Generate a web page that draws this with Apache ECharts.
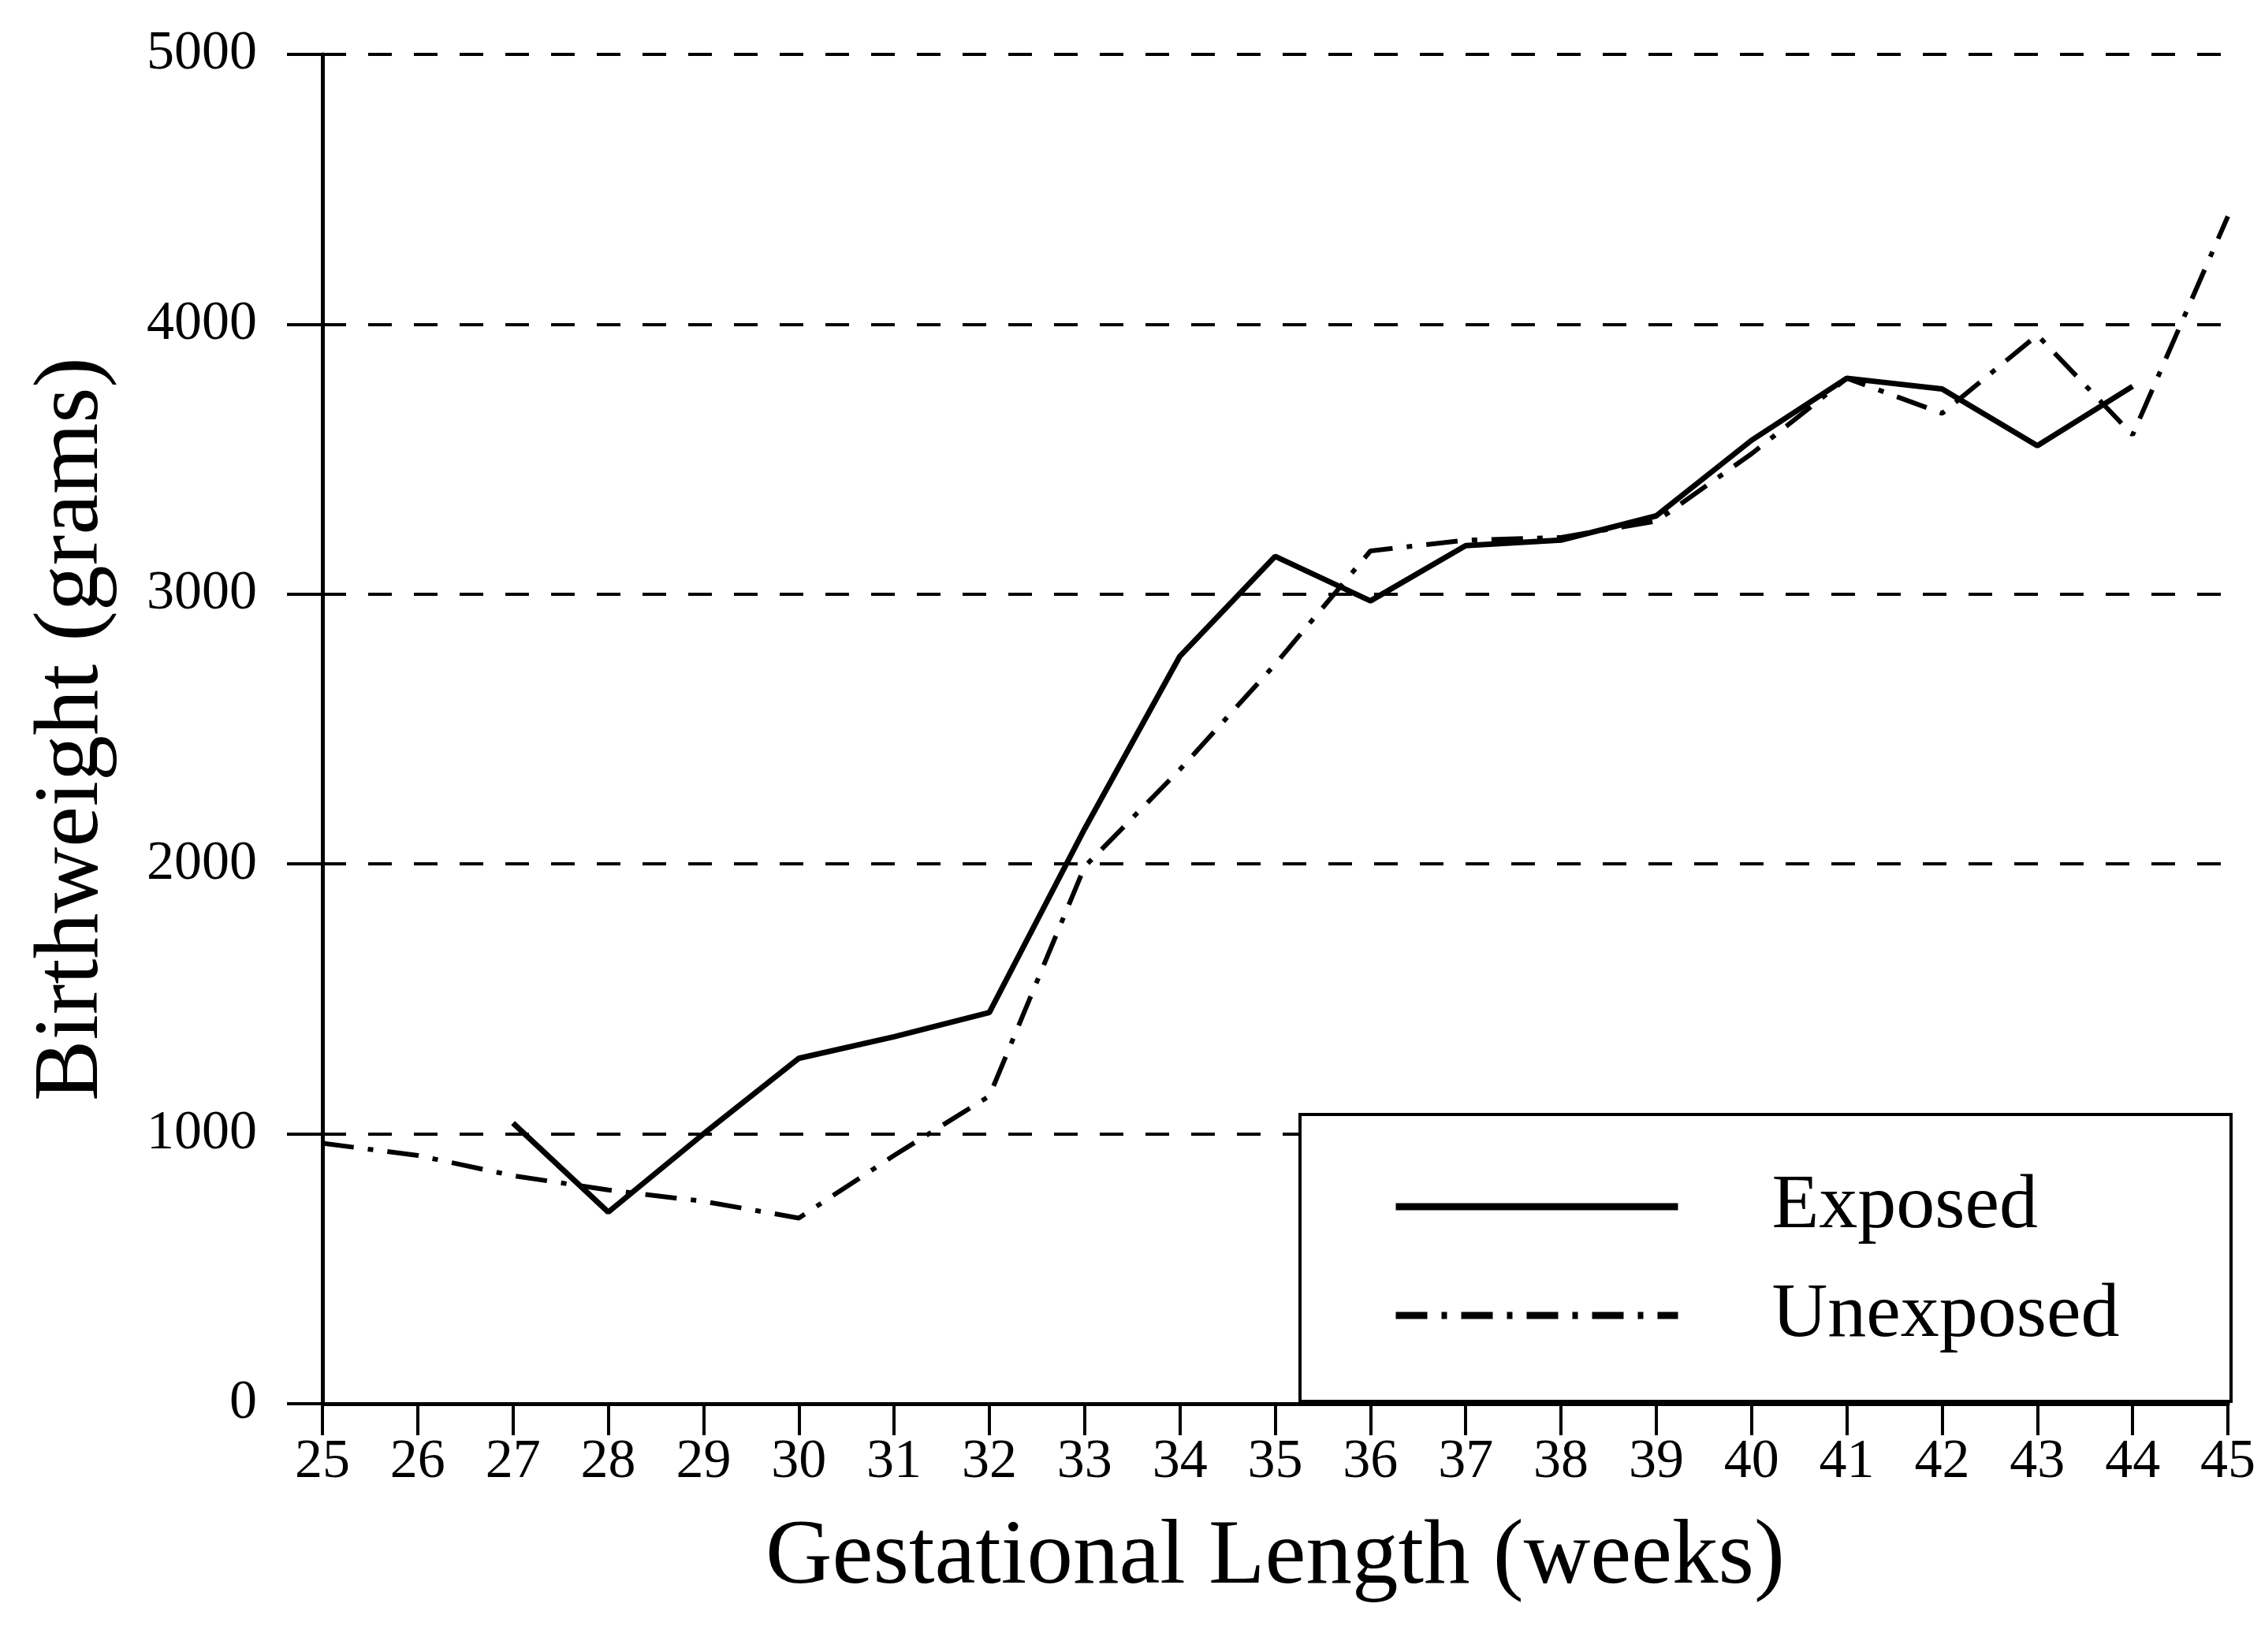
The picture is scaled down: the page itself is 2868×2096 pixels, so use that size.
<!DOCTYPE html>
<html>
<head>
<meta charset="utf-8">
<script src="https://cdn.jsdelivr.net/npm/echarts@6/dist/echarts.min.js"></script>
<style>
  html, body { margin: 0; padding: 0; background: #fff; }
  #chart { width: 2868px; height: 2096px; }
</style>
</head>
<body>
<div id="chart"></div>
<script>
// gestational length in weeks
var weeks = [25, 26, 27, 28, 29, 30, 31, 32, 33, 34, 35, 36, 37, 38, 39, 40, 41, 42, 43, 44, 45];
// mean birthweight (grams)
var exposed = [null, null, 1040, 710, 1000, 1280, 1360, 1450, 2130, 2770, 3140, 2975, 3180, 3200, 3290, 3570, 3800, 3760, 3550, 3770, null];
var unexposed = [965, 920, 845, 792, 750, 688, 920, 1140, 1990, 2350, 2740, 3160, 3200, 3210, 3270, 3520, 3800, 3670, 3960, 3590, 4400];
var yTicks = [0, 1000, 2000, 3000, 4000, 5000];
var seriesNames = ['Exposed', 'Unexposed'];

var serif = 'Liberation Serif';

function pairs(vals) {
  var out = [];
  for (var i = 0; i < weeks.length; i++) {
    out.push([weeks[i], vals[i]]);
  }
  return out;
}

var myChart = echarts.init(document.getElementById('chart'));

var option = {
  backgroundColor: '#fff',
  animation: false,
  grid: { left: 409, right: 42, top: 69, bottom: 315, outerBoundsMode: 'none', containLabel: false },
  xAxis: {
    type: 'value',
    min: weeks[0],
    max: weeks[weeks.length - 1],
    interval: 1,
    name: 'Gestational Length (weeks)',
    nameLocation: 'middle',
    nameGap: 138,
    nameTextStyle: { fontFamily: serif, fontSize: 117, color: '#000' },
    axisLine: { lineStyle: { color: '#000', width: 5 } },
    axisTick: { show: true, length: 40, lineStyle: { color: '#000', width: 4 } },
    axisLabel: { fontFamily: serif, fontSize: 70, color: '#000', margin: 40 },
    splitLine: { show: false }
  },
  yAxis: {
    type: 'value',
    min: yTicks[0],
    max: yTicks[yTicks.length - 1],
    interval: 1000,
    name: 'Birthweight (grams)',
    nameLocation: 'middle',
    nameGap: 258,
    nameTextStyle: { fontFamily: serif, fontSize: 116, color: '#000' },
    axisLine: { show: true, lineStyle: { color: '#000', width: 5 } },
    axisTick: { show: true, length: 45, lineStyle: { color: '#000', width: 4 } },
    axisLabel: {
      fontFamily: serif, fontSize: 70, color: '#000', margin: 83,
      formatter: function (v) { return String(v); }
    },
    splitLine: {
      show: true,
      lineStyle: { color: '#000', width: 4, type: [30, 28] }
    }
  },
  legend: {
    data: seriesNames,
    orient: 'vertical',
    left: 1766,
    top: 1481,
    itemWidth: 358,
    itemHeight: 20,
    itemGap: 38,
    padding: 0,
    itemStyle: { opacity: 0 },
    lineStyle: { width: 9 },
    textStyle: {
      fontFamily: serif,
      fontSize: 98,
      lineHeight: 100,
      color: '#000',
      padding: [0, 0, 0, 114]
    }
  },
  graphic: [{
    type: 'rect',
    z: 3,
    shape: { x: 1649, y: 1414, width: 1181, height: 364 },
    style: { fill: '#fff', stroke: '#000', lineWidth: 4 }
  }],
  series: [
    {
      name: seriesNames[0],
      type: 'line',
      data: pairs(exposed),
      symbol: 'none',
      connectNulls: false,
      lineStyle: { color: '#000', width: 7, type: 'solid' },
      itemStyle: { color: '#000' },
      z: 2
    },
    {
      name: seriesNames[1],
      type: 'line',
      data: pairs(unexposed),
      symbol: 'none',
      lineStyle: { color: '#000', width: 6, type: [40, 18, 7, 18] },
      itemStyle: { color: '#000' },
      z: 2
    }
  ]
};

myChart.setOption(option);
</script>
</body>
</html>
